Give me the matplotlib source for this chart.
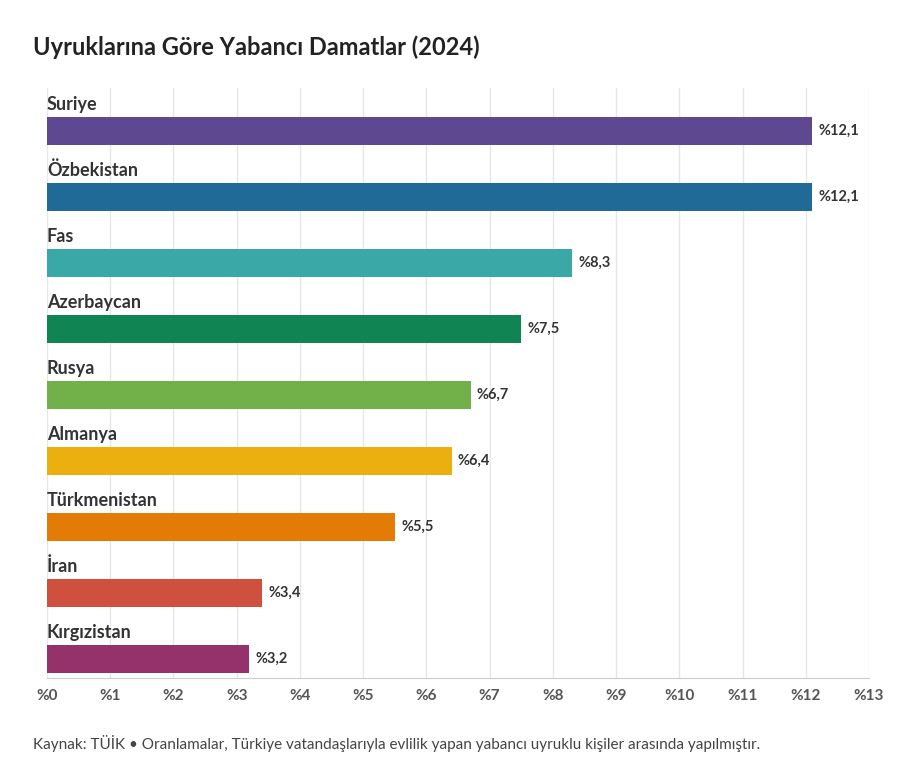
import matplotlib.pyplot as plt

plt.rcParams["font.family"] = "Lato"

countries = ["Suriye", "Özbekistan", "Fas", "Azerbaycan", "Rusya", "Almanya",
             "Türkmenistan", "İran", "Kırgızistan"]
shares = [12.1, 12.1, 8.3, 7.5, 6.7, 6.4, 5.5, 3.4, 3.2]
colours = ["#5e4891", "#1f6a96", "#3aa8a6", "#108452", "#72b04a", "#ebb00f",
           "#e27c06", "#cf503c", "#96326b"]
ticks = list(range(14))

fig = plt.figure(figsize=(9.2, 7.66), dpi=100)
ax = fig.add_axes([47 / 920, 1 - 678 / 766, 822 / 920, 590 / 766])

ys = list(range(len(countries)))
ax.barh(ys, shares, height=0.42, color=colours, zorder=3)
for y, name, v in zip(ys, countries, shares):
    ax.text(0, y - 0.4, name, fontsize=13, fontweight="bold", color="#333333",
            va="center", ha="left")
    ax.text(v + 0.1, y, f"%{v:.1f}".replace(".", ","), fontsize=10.5,
            fontweight="bold", color="#333333", va="center", ha="left")

ax.set_xlim(0, 13)
ax.set_ylim(8.29, -0.65)
ax.set_xticks(ticks)
ax.set_xticklabels([f"%{t}" for t in ticks], fontsize=11, fontweight="bold",
                   color="#555555")
ax.set_yticks([])
ax.tick_params(axis="x", length=0, pad=8)
ax.grid(True, axis="x", color="#e6e6e6", lw=1, zorder=0)
for s in ("top", "right", "left"):
    ax.spines[s].set_visible(False)
ax.spines["bottom"].set_color("#cccccc")

fig.text(33 / 920, 1 - 47 / 766, "Uyruklarına Göre Yabancı Damatlar (2024)",
         fontsize=17, fontweight="bold", color="#222222", va="center")
fig.text(33 / 920, 1 - 743 / 766,
         "Kaynak: TÜİK • Oranlamalar, Türkiye vatandaşlarıyla evlilik yapan yabancı uyruklu kişiler arasında yapılmıştır.",
         fontsize=11, color="#444444", va="center")

fig.savefig("out.png", dpi=100)
